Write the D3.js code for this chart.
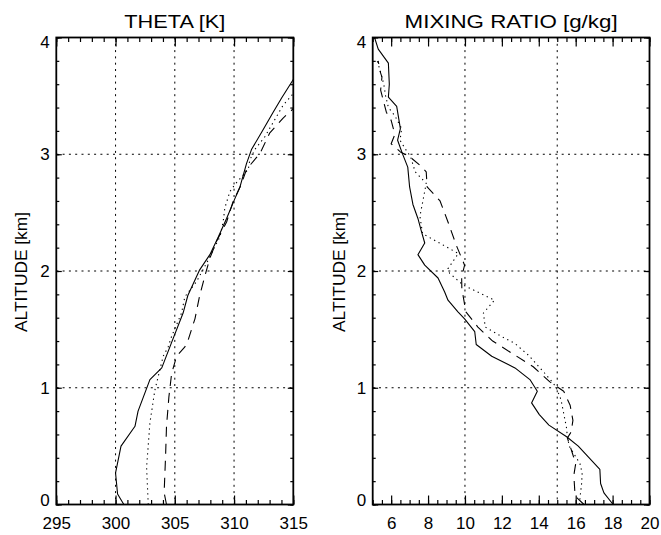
<!DOCTYPE html>
<html>
<head>
<meta charset="utf-8">
<script src="https://cdn.jsdelivr.net/npm/d3@7/dist/d3.min.js"></script>
<style>
  html, body { margin: 0; padding: 0; background: #fff; }
  svg { display: block; }
  text { font-family: "Liberation Sans", Arial, sans-serif; fill: #000; }
</style>
</head>
<body>
<svg id="chart" width="661" height="535"></svg>
<script>
// ---------------- DATA ----------------
// Left panel: potential temperature (K) vs altitude (km)
const thetaSolidT = [300.7, 300.17, 300.0, 300.46, 301.64, 301.9, 302.9, 303.9, 304.7, 305.7, 306.1, 307.1, 307.96, 308.66, 309.37, 310.07, 310.5, 311.05, 311.47, 312.45, 313.3, 314.0, 315.0];
const thetaSolidZ = [0, 0.09, 0.27, 0.5, 0.67, 0.8, 1.07, 1.17, 1.38, 1.64, 1.79, 2.01, 2.14, 2.29, 2.45, 2.62, 2.72, 2.92, 3.04, 3.21, 3.36, 3.48, 3.64];
const thetaDotT = [302.76, 302.62, 302.9, 303.32, 304.02, 304.44, 304.73, 305.57, 305.85, 306.84, 307.8, 308.38, 308.8, 309.08, 309.22, 309.65, 310.07, 311.2, 311.33, 311.75, 312.6, 313.4, 314.14, 315.0];
const thetaDotZ = [0, 0.32, 0.70, 0.98, 1.27, 1.35, 1.44, 1.64, 1.78, 1.91, 2.09, 2.21, 2.29, 2.42, 2.54, 2.68, 2.74, 2.87, 2.95, 3.04, 3.15, 3.29, 3.42, 3.52];
const thetaDashT = [304.3, 304.1, 304.22, 304.3, 304.5, 304.73, 305.15, 305.85, 306.13, 306.7, 307.1, 307.6, 307.96, 308.5, 309.37, 309.9, 310.6, 311.05, 312.2, 313.0, 314.14, 315.0];
const thetaDashZ = [0, 0.1, 0.41, 0.67, 0.92, 1.12, 1.27, 1.35, 1.41, 1.59, 1.79, 1.98, 2.11, 2.25, 2.42, 2.59, 2.74, 2.87, 3.01, 3.18, 3.31, 3.39];

// Right panel: mixing ratio (g/kg) vs altitude (km)
const mixSolidQ = [18.03, 17.53, 17.35, 17.31, 16.14, 15.51, 14.55, 14.03, 13.61, 13.92, 13.52, 12.71, 11.45, 10.61, 10.53, 9.98, 9.62, 9.08, 8.9, 8.54, 7.82, 7.45, 7.82, 7.64, 7.45, 7.18, 7.0, 6.9, 6.6, 6.35, 6.5, 6.3, 5.85, 5.9, 5.85, 5.3, 5.1];
const mixSolidZ = [0, 0.1, 0.18, 0.3, 0.5, 0.58, 0.68, 0.77, 0.87, 0.97, 1.07, 1.17, 1.27, 1.37, 1.48, 1.59, 1.65, 1.75, 1.82, 1.94, 2.05, 2.14, 2.24, 2.34, 2.45, 2.57, 2.72, 2.89, 3.01, 3.12, 3.22, 3.41, 3.49, 3.6, 3.78, 3.9, 4.0];
const mixDotQ = [16.2, 16.25, 16.32, 16.35, 16.23, 15.96, 15.65, 15.55, 15.5, 15.35, 15.2, 14.95, 14.78, 14.24, 13.43, 12.7, 11.97, 11.1, 11.0, 11.6, 9.9, 9.17, 9.08, 9.64, 8.5, 7.7, 7.56, 7.72, 7.9, 7.3, 7.05, 6.75, 6.48, 6.57, 6.2, 5.85, 5.7, 5.6, 5.4, 5.2];
const mixDotZ = [0, 0.08, 0.18, 0.27, 0.35, 0.42, 0.5, 0.58, 0.66, 0.78, 0.9, 1.0, 1.04, 1.14, 1.28, 1.38, 1.44, 1.52, 1.64, 1.75, 1.88, 1.98, 2.02, 2.15, 2.25, 2.32, 2.47, 2.6, 2.75, 2.85, 2.98, 3.05, 3.12, 3.22, 3.33, 3.4, 3.5, 3.6, 3.72, 3.82];
const mixDashQ = [16.45, 16.05, 15.95, 15.9, 16.0, 15.8, 15.55, 15.75, 15.85, 15.7, 15.35, 14.6, 13.7, 12.5, 11.5, 10.7, 10.05, 9.83, 9.82, 9.98, 9.53, 9.08, 8.65, 7.95, 7.9, 7.6, 7.0, 6.5, 6.0, 6.2, 6.0, 5.74, 5.56, 5.43, 5.5, 5.38, 5.3];
const mixDashZ = [0, 0.06, 0.12, 0.25, 0.35, 0.45, 0.57, 0.62, 0.72, 0.85, 0.97, 1.05, 1.18, 1.3, 1.4, 1.52, 1.65, 1.85, 1.95, 2.05, 2.22, 2.42, 2.6, 2.72, 2.85, 2.9, 2.98, 3.02, 3.09, 3.17, 3.29, 3.36, 3.47, 3.55, 3.66, 3.72, 3.8];

// Axes / ticks
const thetaDomain = [295, 315];
const mixDomain = [5, 20];
const altDomain = [0, 4];
const thetaMajor = [295, 300, 305, 310, 315];
const thetaMinor = d3.range(295, 315.01, 1);
const mixMajor = [6, 8, 10, 12, 14, 16, 18, 20];
const mixMinor = d3.range(5, 20.01, 0.5);
const altMajor = [0, 1, 2, 3, 4];
const altMinor = d3.range(0, 4.001, 0.2);
const thetaGrid = [300, 305, 310];
const mixGrid = [10, 15];
const altGrid = [1, 2, 3];

const titles = ["THETA [K]", "MIXING RATIO [g/kg]"];
const yTitle = "ALTITUDE [km]";

// ---------------- DRAW ----------------
const svg = d3.select("#chart");

const panels = [
  {
    x0: 56.3, x1: 293.3, dom: thetaDomain, major: thetaMajor, minor: thetaMinor, grid: thetaGrid,
    title: titles[0], titleW: 101, ylabX: 27,
    series: [
      { xs: thetaSolidT, zs: thetaSolidZ, dash: null },
      { xs: thetaDotT, zs: thetaDotZ, dash: "1.3,3.7" },
      { xs: thetaDashT, zs: thetaDashZ, dash: "10,7" }
    ]
  },
  {
    x0: 372.7, x1: 649.5, dom: mixDomain, major: mixMajor, minor: mixMinor, grid: mixGrid,
    title: titles[1], titleW: 213, ylabX: 345,
    series: [
      { xs: mixSolidQ, zs: mixSolidZ, dash: null },
      { xs: mixDotQ, zs: mixDotZ, dash: "1.3,3.7" },
      { xs: mixDashQ, zs: mixDashZ, dash: "10,7" }
    ]
  }
];

const yTop = 37.5, yBot = 504.5;
const y = d3.scaleLinear().domain(altDomain).range([yBot, yTop]);

panels.forEach((p, i) => {
  const x = d3.scaleLinear().domain(p.dom).range([p.x0, p.x1]);
  const w = p.x1 - p.x0, h = yBot - yTop;
  const g = svg.append("g");

  // clip
  const cid = "clip" + i;
  svg.append("clipPath").attr("id", cid)
    .append("rect").attr("x", p.x0).attr("y", yTop).attr("width", w).attr("height", h);

  // grid lines
  g.selectAll(".vg").data(p.grid).enter().append("line")
    .attr("x1", d => x(d)).attr("x2", d => x(d))
    .attr("y1", yTop).attr("y2", yBot)
    .attr("stroke", "#000").attr("stroke-width", 1).attr("stroke-dasharray", "2,4.3");
  g.selectAll(".hg").data(altGrid).enter().append("line")
    .attr("x1", p.x0).attr("x2", p.x1)
    .attr("y1", d => y(d)).attr("y2", d => y(d))
    .attr("stroke", "#000").attr("stroke-width", 1).attr("stroke-dasharray", "2,4.3");

  const styleAxis = sel => {
    sel.select(".domain").remove();
    sel.selectAll("line").attr("stroke", "#000").attr("stroke-width", 1.2);
  };

  // bottom axis (labels)
  const bottom = g.append("g").attr("transform", `translate(0,${yBot})`)
    .call(d3.axisBottom(x).tickValues(p.major).tickSize(-9).tickPadding(12).tickFormat(d3.format("d")))
    .call(styleAxis);
  bottom.selectAll("text").attr("font-size", 17).attr("font-family", "Liberation Sans, Arial, sans-serif");
  g.append("g").attr("transform", `translate(0,${yBot})`)
    .call(d3.axisBottom(x).tickValues(p.minor).tickSize(-4.5).tickFormat(""))
    .call(styleAxis);
  // top axis
  g.append("g").attr("transform", `translate(0,${yTop})`)
    .call(d3.axisTop(x).tickValues(p.major).tickSize(-9).tickFormat(""))
    .call(styleAxis);
  g.append("g").attr("transform", `translate(0,${yTop})`)
    .call(d3.axisTop(x).tickValues(p.minor).tickSize(-4.5).tickFormat(""))
    .call(styleAxis);
  // left axis (labels)
  const left = g.append("g").attr("transform", `translate(${p.x0},0)`)
    .call(d3.axisLeft(y).tickValues(altMajor).tickSize(-5.5).tickPadding(6.5).tickFormat(d3.format("d")))
    .call(styleAxis);
  left.selectAll("text").attr("font-size", 17).attr("font-family", "Liberation Sans, Arial, sans-serif")
    .attr("dy", d => d === 4 ? "0.58em" : (d === 0 ? "0.08em" : "0.33em"));
  g.append("g").attr("transform", `translate(${p.x0},0)`)
    .call(d3.axisLeft(y).tickValues(altMinor).tickSize(-3).tickFormat(""))
    .call(styleAxis);
  // right axis
  g.append("g").attr("transform", `translate(${p.x1},0)`)
    .call(d3.axisRight(y).tickValues(altMajor).tickSize(-5.5).tickFormat(""))
    .call(styleAxis);
  g.append("g").attr("transform", `translate(${p.x1},0)`)
    .call(d3.axisRight(y).tickValues(altMinor).tickSize(-3).tickFormat(""))
    .call(styleAxis);

  // data lines
  const line = d3.line().x(d => x(d[0])).y(d => y(d[1]));
  const dg = g.append("g").attr("clip-path", `url(#${cid})`);
  p.series.forEach(s => {
    const pts = s.xs.map((v, k) => [v, s.zs[k]]);
    const path = dg.append("path").datum(pts).attr("d", line)
      .attr("fill", "none").attr("stroke", "#000").attr("stroke-width", 1.1)
      .attr("stroke-linejoin", "round");
    if (s.dash) path.attr("stroke-dasharray", s.dash);
  });

  // frame
  g.append("rect").attr("x", p.x0).attr("y", yTop).attr("width", w).attr("height", h)
    .attr("fill", "none").attr("stroke", "#000").attr("stroke-width", 1.8);

  // title
  g.append("text").attr("x", (p.x0 + p.x1) / 2).attr("y", 27.5)
    .attr("text-anchor", "middle").attr("font-size", 18)
    .attr("textLength", p.titleW).attr("lengthAdjust", "spacingAndGlyphs")
    .text(p.title);

  // y title
  g.append("text").attr("transform", `translate(${p.ylabX},${(yTop + yBot) / 2 + 1}) rotate(-90)`)
    .attr("text-anchor", "middle").attr("font-size", 17)
    .attr("textLength", 120).attr("lengthAdjust", "spacingAndGlyphs")
    .text(yTitle);
});
</script>
</body>
</html>
